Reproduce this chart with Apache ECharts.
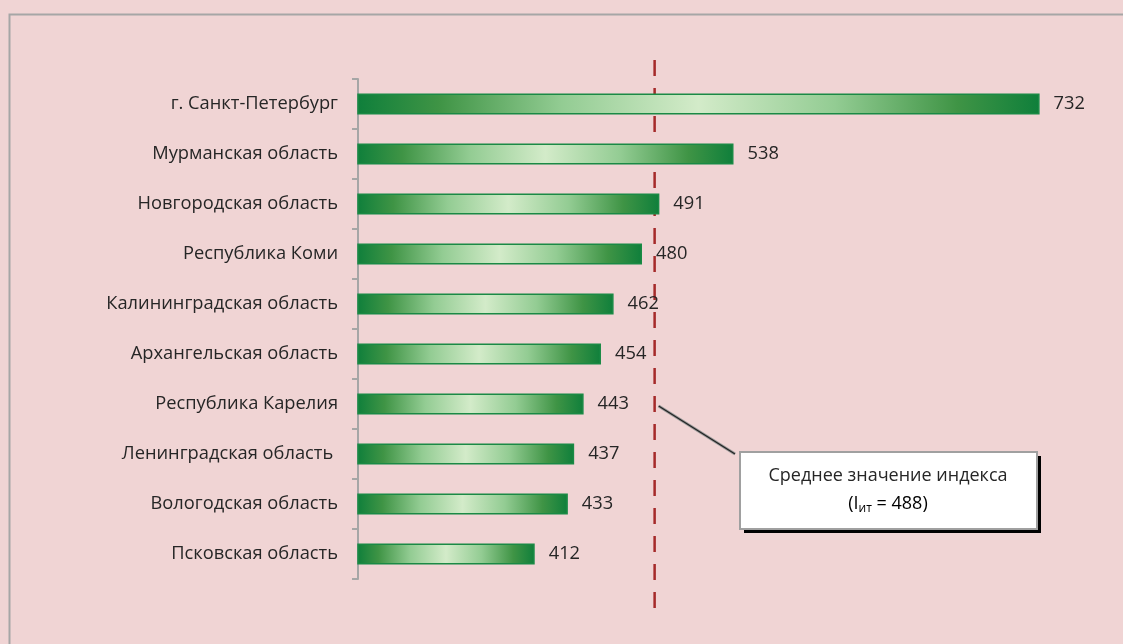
<!DOCTYPE html>
<html><head><meta charset="utf-8">
<script src="https://cdn.jsdelivr.net/npm/echarts@6/dist/echarts.min.js"></script>
<style>html,body{margin:0;padding:0;background:#f0d4d4;}#c{width:1123px;height:644px;}</style>
</head><body><div id="c"></div>
<script>
const categories = ['г. Санкт-Петербург','Мурманская область','Новгородская область','Республика Коми','Калининградская область','Архангельская область','Республика Карелия','Ленинградская область ','Вологодская область','Псковская область'];
const values = [732,538,491,480,462,454,443,437,433,412];
const meanValue = 488;
const axisMin = 300, axisMax = 750;

const chart = echarts.init(document.getElementById('c'));
const grad = new echarts.graphic.LinearGradient(0,0,1,0,[
  {offset:0,color:'#0f7f3b'},{offset:0.12,color:'#3f9445'},{offset:0.3,color:'#93cc93'},
  {offset:0.5,color:'#d3ebc9'},{offset:0.7,color:'#93cc93'},{offset:0.88,color:'#3f9445'},{offset:1,color:'#0f7f3b'}]);
chart.setOption({
  backgroundColor:'#f0d4d4',
  animation:false,
  grid:{left:358,right:55,top:79,bottom:65},
  xAxis:{type:'value',min:axisMin,max:axisMax,show:false},
  yAxis:{type:'category',data:categories,inverse:true,
    axisLine:{show:true,lineStyle:{color:'#a6a6a6',width:2}},
    axisTick:{show:true,length:6,lineStyle:{color:'#a6a6a6',width:2}},
    axisLabel:{color:'#262626',fontFamily:'Open Sans',fontSize:18.3,margin:20}},
  series:[{type:'bar',data:values,barWidth:21,
    itemStyle:{color:grad,borderColor:'#1a8a45',borderWidth:1.5},
    label:{show:true,position:'right',distance:14,color:'#262626',fontFamily:'Open Sans',fontSize:18.3}}]
});
const mx = chart.convertToPixel({xAxisIndex:0},meanValue);
chart.setOption({graphic:[
  {type:'rect',left:7,top:12,shape:{width:1200,height:700},style:{fill:null,stroke:'#a6a6a6',lineWidth:2},silent:true},
  {type:'line',shape:{x1:mx,y1:60,x2:mx,y2:612},style:{stroke:'#a52a2a',lineWidth:2.5,lineDash:[16,12]}},
  {type:'line',shape:{x1:mx+4,y1:406,x2:735,y2:454},style:{stroke:'#999',lineWidth:3}},
  {type:'line',shape:{x1:mx+4,y1:406,x2:735,y2:454},style:{stroke:'#222',lineWidth:1.2}},
  {type:'rect',shape:{x:744,y:456,width:297,height:77},style:{fill:'#000'}},
  {type:'rect',shape:{x:740,y:452,width:297,height:77},style:{fill:'#fff',stroke:'#a0a0a0',lineWidth:2}},
  {type:'text',x:888,y:476,style:{text:'Среднее значение индекса',fill:'#262626',font:'18px "Open Sans"',align:'center',verticalAlign:'middle'}},
  {type:'text',x:888,y:504,style:{text:'{a|(I}{s|ит}{a| = '+meanValue+')}',align:'center',verticalAlign:'middle',
    rich:{a:{fontFamily:'Open Sans',fontSize:18,color:'#262626'},s:{fontFamily:'Open Sans',fontSize:12,color:'#262626',padding:[10,0,0,0]}}}}
]});
</script></body></html>
